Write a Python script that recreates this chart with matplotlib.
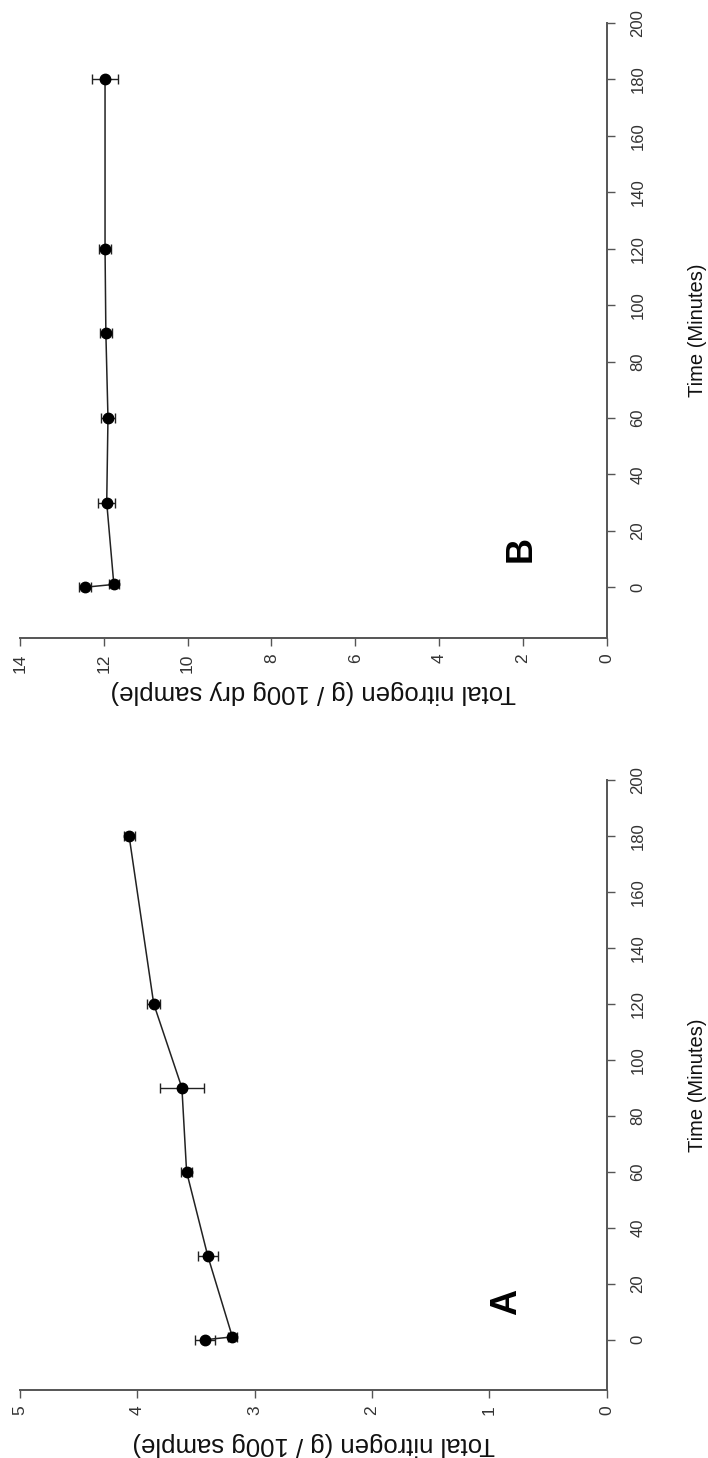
import numpy as np
import matplotlib.pyplot as plt

# panel A: total nitrogen (g / 100 g sample) over time
time_a = [0, 1, 30, 60, 90, 120, 180]
nitrogen_a = [3.42, 3.19, 3.40, 3.58, 3.62, 3.86, 4.07]
err_a = [0.085, 0.04, 0.085, 0.05, 0.19, 0.057, 0.047]

# panel B: total nitrogen (g / 100 g dry sample) over time
time_b = [0, 1, 30, 60, 90, 120, 180]
nitrogen_b = [12.45, 11.76, 11.93, 11.90, 11.95, 11.97, 11.97]
err_b = [0.14, 0.12, 0.20, 0.16, 0.14, 0.15, 0.30]

time_ticks = np.arange(0, 201, 20)
ticks_a = np.arange(0, 6, 1)
ticks_b = np.arange(0, 15, 2)

fonts = ['Liberation Sans', 'DejaVu Sans']
axis_col = '#555555'


def draw_panel(ax, t, n, err, nmax, nticks, letter, letter_x, xlabel):
    ax.errorbar(n, t, xerr=err, fmt='-o', color='#222222', mfc='black', mec='black',
                ms=7.5, lw=1.1, elinewidth=1, ecolor='#222222', capsize=3.5, capthick=1)
    # page is turned on its side: time runs upward, nitrogen runs leftward
    ax.set_xlim(nmax, 0)
    ax.set_ylim(-18, 200)
    for s in ['left', 'top']:
        ax.spines[s].set_visible(False)
    for s in ['right', 'bottom']:
        ax.spines[s].set_color(axis_col)
        ax.spines[s].set_linewidth(1.4)
    ax.yaxis.tick_right()
    ax.set_yticks(time_ticks)
    ax.set_xticks(nticks)
    ax.tick_params(axis='y', direction='out', length=6, width=1, color=axis_col,
                   pad=11, labelsize=12, labelcolor='#333333')
    ax.tick_params(axis='x', direction='out', length=6, width=1, color=axis_col,
                   pad=5, labelsize=12.5, labelcolor='#333333')
    for lbl in ax.get_yticklabels():
        lbl.set_rotation(90)
        lbl.set_va('center')
        lbl.set_family(fonts)
    for lbl in ax.get_xticklabels():
        lbl.set_rotation(90)
        lbl.set_family(fonts)

    ax.text(1.155, 0.5, 'Time (Minutes)', transform=ax.transAxes, rotation=90,
            ha='center', va='center', fontsize=14.5, family=fonts, color='#111111')
    ax.text(0.5, -0.088, xlabel, transform=ax.transAxes, rotation=180,
            ha='center', va='center', fontsize=18.5, family=fonts, color='#111111')
    ax.text(letter_x, 0.145, letter, transform=ax.transAxes, rotation=90,
            ha='center', va='center', fontsize=26, fontweight='bold', family=fonts)


fig = plt.figure(figsize=(7.08, 14.58), dpi=100)
ax_a = fig.add_axes([0.0282, 0.0466, 0.8287, 0.4184])
ax_b = fig.add_axes([0.0282, 0.5624, 0.8287, 0.4218])

draw_panel(ax_a, time_a, nitrogen_a, err_a, 5, ticks_a, 'A', 0.83,
           'Total nitrogen (g / 100g sample)')
draw_panel(ax_b, time_b, nitrogen_b, err_b, 14, ticks_b, 'B', 0.855,
           'Total nitrogen (g / 100g dry sample)')

fig.savefig('out.png', dpi=100)
